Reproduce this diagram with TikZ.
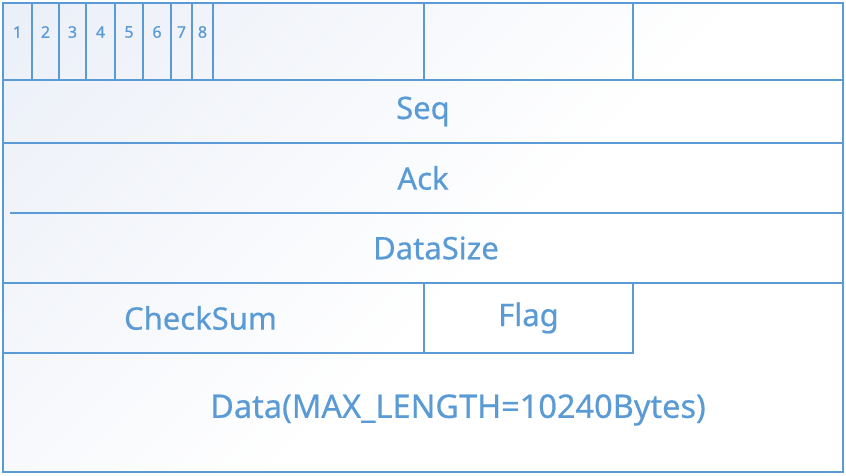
\documentclass[tikz,border=0pt]{standalone}
\usepackage{fontspec}
\setmainfont{Noto Sans}
\newfontfamily\pktfont{Noto Sans}[FakeBold=0.5]
\definecolor{pktblue}{HTML}{5B9BD5}
\definecolor{pktshade}{HTML}{E3E9F5}
\pgfdeclareverticalshading{pktbg}{100bp}{color(0bp)=(white); color(45bp)=(white); color(100bp)=(pktshade)}

\begin{document}
\begin{tikzpicture}[
    x=1pt, y=-1pt,
    cell/.style={rectangle, draw=pktblue, line width=1.1pt, anchor=north west,
                 inner sep=0pt, outer sep=0pt, text=pktblue,
                 font=\pktfont\fontsize{31}{36}\selectfont},
    row/.style={cell, draw=none, minimum width=840pt, minimum height=70pt},
    bitcell/.style={cell, minimum height=77pt},
    bitnum/.style={text=pktblue, font=\pktfont\fontsize{16}{19}\selectfont, yshift=9.5pt},
    field/.style={text=pktblue, font=\pktfont\fontsize{31}{36}\selectfont},
]

% Hintergrund
\useasboundingbox (0,0) rectangle (846,476);
\shade[shading=pktbg, shading angle=45] (3,3) rectangle (843,472);

% Rahmen
\node[cell, minimum width=840pt, minimum height=469pt] (frame) at (3,3) {};

% Bits
\node[bitcell, minimum width=29pt, label={[bitnum]center:1}] (bit1) at (3,3) {};
\node[bitcell, minimum width=27pt, label={[bitnum]center:2}] (bit2) at (32,3) {};
\node[bitcell, minimum width=27pt, label={[bitnum]center:3}] (bit3) at (59,3) {};
\node[bitcell, minimum width=29pt, label={[bitnum]center:4}] (bit4) at (86,3) {};
\node[bitcell, minimum width=28pt, label={[bitnum]center:5}] (bit5) at (115,3) {};
\node[bitcell, minimum width=28pt, label={[bitnum]center:6}] (bit6) at (143,3) {};
\node[bitcell, minimum width=21pt, label={[bitnum]center:7}] (bit7) at (171,3) {};
\node[bitcell, minimum width=21pt, label={[bitnum]center:8}] (bit8) at (192,3) {};
\node[bitcell, minimum width=211pt] (spare1) at (213,3) {};
\node[bitcell, minimum width=209pt] (spare2) at (424,3) {};
\node[bitcell, minimum width=210pt] (spare3) at (633,3) {};

% Felder
\node[cell, minimum width=840pt, minimum height=63pt] (seq) at (3,80) {Seq};
\node[row] (ack) at (3,143) {Ack};
\draw[pktblue, line width=1.1pt] ([xshift=7pt]ack.south west) -- (ack.south east);
\node[row, label={[field, xshift=13pt]center:DataSize}] (datasize) at (3,213) {};
\draw[pktblue, line width=1.1pt] (datasize.south west) -- (datasize.south east);
\node[cell, minimum width=421pt, minimum height=70pt,
      label={[field, xshift=-13pt]center:CheckSum}] (checksum) at (3,283) {};
\node[cell, minimum width=209pt, minimum height=70pt] (flag) at (424,283) {Flag};
\node[field, font=\pktfont\fontsize{32.5}{38}\selectfont] (data) at (458,410) {Data(MAX\_LENGTH=10240Bytes)};

\end{tikzpicture}
\end{document}
